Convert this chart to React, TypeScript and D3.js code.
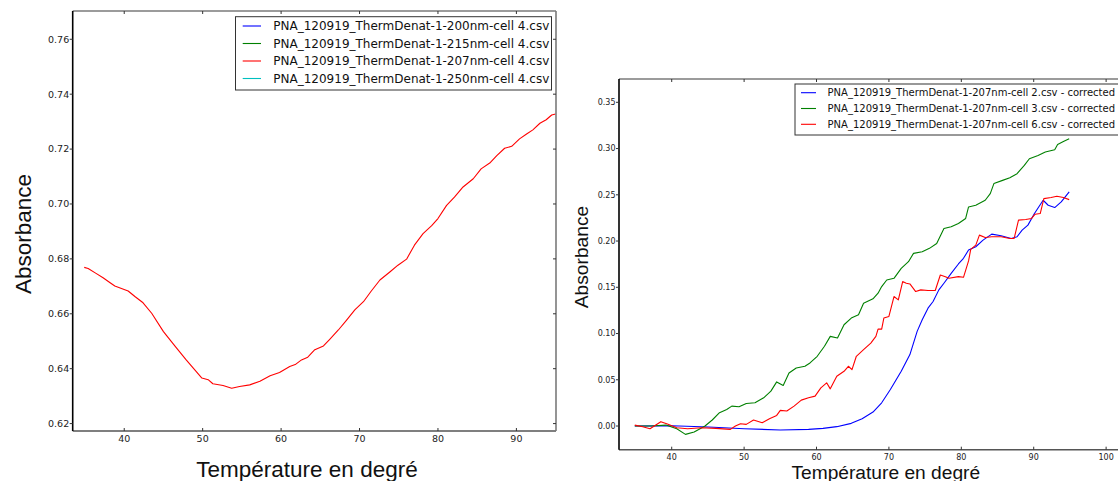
import React from "react";
import * as d3 from "d3";

// ---------- Left panel data (207nm, cell 4) ----------
const leftX = [34.9, 35.4, 36.3, 37.3, 38.2, 38.8, 40.5, 41.4, 42.4, 43.5, 45.0, 46.5, 47.9, 49.9, 50.7, 51.3, 52.6, 53.7, 54.7, 56.0, 57.3, 58.6, 59.8, 61.1, 61.8, 62.6, 63.4, 64.3, 65.4, 66.2, 67.3, 68.3, 69.4, 70.5, 71.5, 72.6, 73.9, 74.9, 76.0, 77.0, 78.1, 79.2, 80.0, 81.1, 82.1, 83.2, 84.5, 85.5, 86.6, 87.5, 88.5, 89.4, 90.4, 91.3, 92.1, 93.0, 93.8, 94.5, 95.0];
const leftY = [0.6769, 0.6765, 0.6749, 0.6731, 0.6713, 0.6701, 0.6683, 0.6662, 0.664, 0.6602, 0.6535, 0.6481, 0.6432, 0.6366, 0.636, 0.6345, 0.6339, 0.6329, 0.6335, 0.6341, 0.6354, 0.6374, 0.6386, 0.6408, 0.6415, 0.6432, 0.6442, 0.6469, 0.6483, 0.6507, 0.6541, 0.6575, 0.6614, 0.6644, 0.6683, 0.6723, 0.6753, 0.6777, 0.6799, 0.685, 0.6892, 0.6921, 0.6947, 0.6995, 0.7025, 0.7062, 0.7092, 0.7128, 0.7149, 0.7176, 0.7203, 0.721, 0.7237, 0.7255, 0.727, 0.7294, 0.7307, 0.7324, 0.7328];
const leftLegend = [
  "PNA_120919_ThermDenat-1-200nm-cell 4.csv",
  "PNA_120919_ThermDenat-1-215nm-cell 4.csv",
  "PNA_120919_ThermDenat-1-207nm-cell 4.csv",
  "PNA_120919_ThermDenat-1-250nm-cell 4.csv",
];
const leftLegendColors = ["#0000ff", "#008000", "#ff0000", "#00bfbf"];
const leftXTicks = [40, 50, 60, 70, 80, 90];
const leftYTicks = [0.62, 0.64, 0.66, 0.68, 0.7, 0.72, 0.74, 0.76];

// ---------- Right panel data (207nm, cells 2, 3, 6 corrected) ----------
const blueX = [34.9, 40.0, 45.1, 50.0, 55.0, 58.9, 60.9, 62.8, 64.8, 66.3, 67.8, 69.0, 70.2, 71.7, 72.9, 73.9, 74.6, 75.4, 76.1, 76.9, 77.6, 78.6, 79.6, 80.3, 81.0, 82.0, 83.0, 84.2, 85.5, 86.9, 87.7, 88.4, 89.2, 90.1, 91.3, 92.0, 92.9, 93.8, 94.9];
const blueY = [0.0, 0.0003, -0.001, -0.0029, -0.0043, -0.0036, -0.0025, -0.0007, 0.0029, 0.0079, 0.0151, 0.0251, 0.0395, 0.0592, 0.0772, 0.1023, 0.1149, 0.1274, 0.1346, 0.1472, 0.1544, 0.1651, 0.1752, 0.1813, 0.1903, 0.1938, 0.201, 0.2075, 0.2057, 0.2028, 0.2046, 0.2118, 0.2172, 0.2297, 0.2441, 0.2387, 0.2362, 0.2423, 0.2531];
const greenX = [34.9, 37.2, 39.2, 40.7, 41.9, 43.1, 44.6, 45.6, 46.6, 47.6, 48.3, 49.3, 50.3, 51.5, 52.7, 53.7, 54.5, 55.4, 56.2, 57.2, 58.4, 59.1, 60.1, 61.1, 61.9, 62.9, 63.8, 64.8, 65.8, 66.5, 67.8, 68.5, 69.0, 69.7, 70.7, 71.7, 72.7, 73.4, 74.6, 75.6, 76.6, 77.6, 78.6, 79.6, 80.6, 81.0, 82.0, 83.3, 84.0, 84.5, 85.7, 86.7, 87.7, 88.7, 89.4, 90.6, 91.6, 92.9, 93.3, 94.1, 94.9];
const greenY = [0.0, 0.0, 0.001, -0.003, -0.009, -0.0065, 0.0, 0.0065, 0.0144, 0.0179, 0.0215, 0.0208, 0.0244, 0.0251, 0.0305, 0.0377, 0.0477, 0.0438, 0.0574, 0.0628, 0.0646, 0.0682, 0.0754, 0.0862, 0.0969, 0.0951, 0.1095, 0.1167, 0.1203, 0.1328, 0.1375, 0.1436, 0.1508, 0.1579, 0.1597, 0.1705, 0.1777, 0.1867, 0.1885, 0.1921, 0.1974, 0.2136, 0.2154, 0.219, 0.2244, 0.2369, 0.2387, 0.2441, 0.2513, 0.2621, 0.2656, 0.2685, 0.2728, 0.2818, 0.289, 0.2926, 0.2962, 0.2987, 0.3044, 0.3076, 0.3105];
const redX = [34.9, 36.0, 37.0, 38.5, 39.5, 40.7, 42.2, 44.1, 46.1, 48.1, 48.8, 49.5, 50.3, 51.3, 52.5, 53.5, 54.5, 55.0, 55.9, 56.9, 57.9, 58.9, 59.8, 60.6, 61.4, 61.9, 62.8, 63.8, 64.4, 64.9, 65.5, 66.5, 67.5, 68.2, 68.5, 69.0, 69.3, 70.0, 70.7, 71.3, 71.9, 72.4, 72.9, 73.7, 74.4, 75.4, 76.4, 77.1, 77.8, 78.3, 79.6, 80.3, 81.0, 81.3, 82.0, 82.5, 83.3, 84.2, 85.5, 86.7, 87.3, 87.9, 88.9, 89.7, 90.2, 90.9, 91.4, 92.4, 93.2, 94.1, 94.9];
const redY = [0.001, -0.0007, -0.0029, 0.0047, 0.0018, -0.0018, -0.0029, -0.0018, -0.0025, -0.0036, 0.0, 0.0025, 0.0018, 0.0065, 0.0036, 0.0079, 0.0115, 0.0169, 0.0162, 0.0215, 0.028, 0.0305, 0.0323, 0.0413, 0.0467, 0.0402, 0.0538, 0.0592, 0.0646, 0.061, 0.0754, 0.0826, 0.0897, 0.0969, 0.1048, 0.1048, 0.1167, 0.1185, 0.14, 0.1364, 0.1562, 0.1544, 0.1536, 0.1454, 0.1472, 0.1465, 0.1465, 0.1633, 0.1615, 0.1597, 0.1615, 0.1608, 0.1785, 0.191, 0.1956, 0.2064, 0.2039, 0.2046, 0.2046, 0.2028, 0.2028, 0.2226, 0.2233, 0.2244, 0.229, 0.2297, 0.2459, 0.247, 0.2484, 0.247, 0.2448];
const rightLegend = [
  "PNA_120919_ThermDenat-1-207nm-cell 2.csv - corrected",
  "PNA_120919_ThermDenat-1-207nm-cell 3.csv - corrected",
  "PNA_120919_ThermDenat-1-207nm-cell 6.csv - corrected",
];
const rightLegendColors = ["#0000ff", "#008000", "#ff0000"];
const rightXTicks = [40, 50, 60, 70, 80, 90, 100];
const rightYTicks = [0, 0.05, 0.1, 0.15, 0.2, 0.25, 0.3, 0.35];

const xLabel = "Température en degré";
const yLabel = "Absorbance";

type Series = { xs: number[]; ys: number[]; color: string };

type PanelProps = {
  left: number; right: number; top: number; bottom: number;
  xDomain: [number, number]; yDomain: [number, number];
  xTicks: number[]; yTicks: number[];
  series: Series[];
  tickFont: number;
  xTickBaseline: number;
  legend: string[]; legendColors: string[];
  legendBox: { x: number; y: number; w: number; h: number };
  legendFont: number; legendRow0: number; legendRowGap: number;
  legendLineX: [number, number]; legendTextX: number;
  labelFont: number; xLabelX: number; xLabelY: number;
  yLabelX: number; yLabelY: number;
  clipId: string;
  showRight: boolean;
};

function Panel(p: PanelProps) {
  const x = d3.scaleLinear().domain(p.xDomain).range([p.left, p.right]);
  const y = d3.scaleLinear().domain(p.yDomain).range([p.bottom, p.top]);
  const line = d3.line<[number, number]>().x((d) => x(d[0])).y((d) => y(d[1]));
  const fmt = d3.format(".2f");
  const tickFontFamily = "'DejaVu Sans', sans-serif";
  return (
    <g>
      <defs>
        <clipPath id={p.clipId}>
          <rect x={p.left} y={p.top} width={p.right - p.left} height={p.bottom - p.top} />
        </clipPath>
      </defs>
      <g clipPath={`url(#${p.clipId})`}>
        {p.series.map((s, i) => (
          <path key={i} d={line(s.xs.map((v, j) => [v, s.ys[j]] as [number, number])) || ""}
            fill="none" stroke={s.color} strokeWidth={1.1} strokeLinejoin="round" />
        ))}
      </g>
      {/* frame */}
      <line x1={p.left} x2={p.right} y1={p.top} y2={p.top} stroke="#7a7a7a" strokeWidth={1.6} />
      <line x1={p.left} x2={p.right} y1={p.bottom} y2={p.bottom} stroke="#555" strokeWidth={1.6} />
      {p.showRight && <line x1={p.right} x2={p.right} y1={p.top} y2={p.bottom} stroke="#7a7a7a" strokeWidth={1.6} />}
      <line x1={p.left} x2={p.left} y1={p.top} y2={p.bottom} stroke="#000" strokeWidth={1.6} />
      {/* x ticks */}
      {p.xTicks.map((t) => (
        <g key={"x" + t}>
          <line x1={x(t)} x2={x(t)} y1={p.bottom} y2={p.bottom - 3} stroke="#333" strokeWidth={1} />
          <line x1={x(t)} x2={x(t)} y1={p.top} y2={p.top + 3} stroke="#333" strokeWidth={1} />
          <text x={x(t)} y={p.xTickBaseline} textAnchor="middle" fontSize={p.tickFont}
            fontFamily={tickFontFamily} fill="#222">{t}</text>
        </g>
      ))}
      {/* y ticks */}
      {p.yTicks.map((t) => (
        <g key={"y" + t}>
          <line x1={p.left} x2={p.left - 3} y1={y(t)} y2={y(t)} stroke="#333" strokeWidth={1} />
          {p.showRight && <line x1={p.right} x2={p.right - 3} y1={y(t)} y2={y(t)} stroke="#333" strokeWidth={1} />}
          <text x={p.left - 3.5} y={y(t)} dy="0.35em" textAnchor="end" fontSize={p.tickFont}
            fontFamily={tickFontFamily} fill="#222">{fmt(t)}</text>
        </g>
      ))}
      {/* legend */}
      <rect x={p.legendBox.x} y={p.legendBox.y} width={p.legendBox.w} height={p.legendBox.h}
        fill="#fff" stroke="#333" strokeWidth={1} />
      {p.legend.map((name, i) => {
        const ly = p.legendRow0 + i * p.legendRowGap;
        return (
          <g key={name}>
            <line x1={p.legendLineX[0]} x2={p.legendLineX[1]} y1={ly} y2={ly}
              stroke={p.legendColors[i]} strokeWidth={1.1} />
            <text x={p.legendTextX} y={ly} dy="0.35em" fontSize={p.legendFont}
              fontFamily={tickFontFamily} fill="#111">{name}</text>
          </g>
        );
      })}
      {/* axis labels */}
      <text x={p.xLabelX} y={p.xLabelY} textAnchor="middle" fontSize={p.labelFont}
        fontFamily="'Liberation Sans', Arial, sans-serif" fill="#111">{xLabel}</text>
      <text transform={`translate(${p.yLabelX},${p.yLabelY}) rotate(-90)`} textAnchor="middle"
        fontSize={p.labelFont} fontFamily="'Liberation Sans', Arial, sans-serif" fill="#111">{yLabel}</text>
    </g>
  );
}

export default function App() {
  return (
    <svg width={1118} height={481} style={{ position: "absolute", left: 0, top: 0, background: "#fff" }}
      xmlns="http://www.w3.org/2000/svg">
      <rect x={0} y={0} width={1118} height={481} fill="#fff" />
      <Panel
        left={72.7} right={556} top={11} bottom={431}
        xDomain={[33.43, 95.05]} yDomain={[0.6173, 0.7703]}
        xTicks={leftXTicks} yTicks={leftYTicks}
        series={[{ xs: leftX, ys: leftY, color: "#ff0000" }]}
        tickFont={9.5} xTickBaseline={442}
        legend={leftLegend} legendColors={leftLegendColors}
        legendBox={{ x: 235.5, y: 16.7, w: 316, h: 73.3 }}
        legendFont={12} legendRow0={26} legendRowGap={17.5}
        legendLineX={[242.7, 261]} legendTextX={273.3}
        labelFont={22.5} xLabelX={307} xLabelY={476.5}
        yLabelX={31} yLabelY={234}
        clipId="clipL" showRight={true}
      />
      <Panel
        left={619} right={1140} top={79} bottom={449.7}
        xDomain={[32.72, 104.68]} yDomain={[-0.0256, 0.3752]}
        xTicks={rightXTicks} yTicks={rightYTicks}
        series={[
          { xs: blueX, ys: blueY, color: "#0000ff" },
          { xs: greenX, ys: greenY, color: "#008000" },
          { xs: redX, ys: redY, color: "#ff0000" },
        ]}
        tickFont={8} xTickBaseline={460}
        legend={rightLegend} legendColors={rightLegendColors}
        legendBox={{ x: 795, y: 84, w: 340, h: 51 }}
        legendFont={10} legendRow0={92.7} legendRowGap={15.8}
        legendLineX={[801, 816]} legendTextX={827.6}
        labelFont={19.2} xLabelX={885.8} xLabelY={478.7}
        yLabelX={588} yLabelY={257}
        clipId="clipR" showRight={false}
      />
    </svg>
  );
}
